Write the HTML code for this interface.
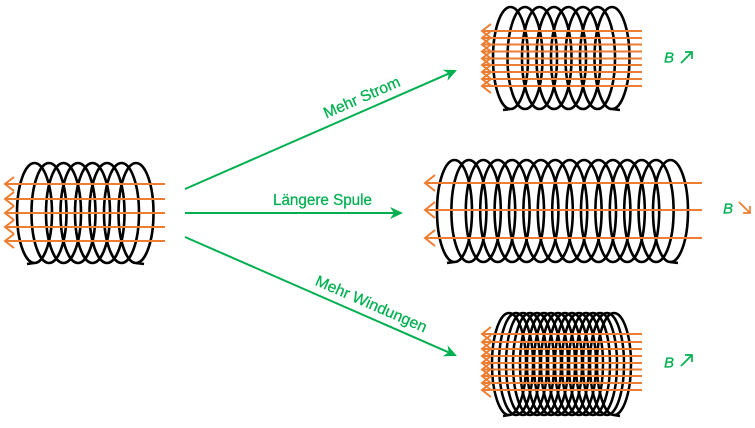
<!DOCTYPE html>
<html>
<head>
<meta charset="utf-8">
<style>
  html,body{margin:0;padding:0;background:#fff;}
  svg{display:block;}
  text{font-family:"Liberation Sans",sans-serif;}
</style>
</head>
<body>
<svg width="755" height="428" viewBox="0 0 755 428" xmlns="http://www.w3.org/2000/svg">
  <rect width="755" height="428" fill="#fff"/>

  <!-- Coil 1 (left) -->
  <g fill="none" stroke="#000" stroke-width="2.6">
    <ellipse cx="34.5" cy="213" rx="17.5" ry="50"/>
    <ellipse cx="49" cy="213" rx="17.5" ry="50"/>
    <ellipse cx="63.5" cy="213" rx="17.5" ry="50"/>
    <ellipse cx="78" cy="213" rx="17.5" ry="50"/>
    <ellipse cx="92.5" cy="213" rx="17.5" ry="50"/>
    <ellipse cx="107" cy="213" rx="17.5" ry="50"/>
    <ellipse cx="121.5" cy="213" rx="17.5" ry="50"/>
    <ellipse cx="136" cy="213" rx="17.5" ry="50"/>
    <path d="M27 264 L34 263 M136 263 L144 264"/>
  </g>
  <g fill="none" stroke="#ED7D31" stroke-width="2">
    <path d="M5 184 H165 M5 199 H165 M5 213 H165 M5 227 H165 M5 241 H165"/>
    <path d="M14 177 L5 184 L14 191 M14 192 L5 199 L14 206 M14 206 L5 213 L14 220 M14 220 L5 227 L14 234 M14 234 L5 241 L14 248"/>
  </g>

  <!-- Coil 2 (top) -->
  <g fill="none" stroke="#000" stroke-width="2.6">
    <ellipse cx="510.5" cy="58" rx="17.5" ry="51"/>
    <ellipse cx="525" cy="58" rx="17.5" ry="51"/>
    <ellipse cx="539.5" cy="58" rx="17.5" ry="51"/>
    <ellipse cx="554" cy="58" rx="17.5" ry="51"/>
    <ellipse cx="568.5" cy="58" rx="17.5" ry="51"/>
    <ellipse cx="583" cy="58" rx="17.5" ry="51"/>
    <ellipse cx="597.5" cy="58" rx="17.5" ry="51"/>
    <ellipse cx="612" cy="58" rx="17.5" ry="51"/>
    <path d="M503 110 L510 109 M612 109 L620 110"/>
  </g>
  <g fill="none" stroke="#ED7D31" stroke-width="2">
    <path d="M482 31 H642 M482 38 H642 M482 44.5 H642 M482 51.5 H642 M482 58.5 H642 M482 65 H642 M482 72 H642 M482 79 H642 M482 86 H642"/>
    <path d="M491 24 L482 31 L491 38 M491 31 L482 38 L491 45 M491 37.5 L482 44.5 L491 51.5 M491 44.5 L482 51.5 L491 58.5 M491 51.5 L482 58.5 L491 65.5 M491 58 L482 65 L491 72 M491 65 L482 72 L491 79 M491 72 L482 79 L491 86 M491 79 L482 86 L491 93"/>
  </g>

  <!-- Coil 3 (middle, long) -->
  <g fill="none" stroke="#000" stroke-width="2.6">
    <ellipse cx="454.5" cy="211" rx="17.5" ry="51"/>
    <ellipse cx="468.9" cy="211" rx="17.5" ry="51"/>
    <ellipse cx="483.3" cy="211" rx="17.5" ry="51"/>
    <ellipse cx="497.7" cy="211" rx="17.5" ry="51"/>
    <ellipse cx="512.1" cy="211" rx="17.5" ry="51"/>
    <ellipse cx="526.5" cy="211" rx="17.5" ry="51"/>
    <ellipse cx="540.9" cy="211" rx="17.5" ry="51"/>
    <ellipse cx="555.3" cy="211" rx="17.5" ry="51"/>
    <ellipse cx="569.7" cy="211" rx="17.5" ry="51"/>
    <ellipse cx="584.1" cy="211" rx="17.5" ry="51"/>
    <ellipse cx="598.5" cy="211" rx="17.5" ry="51"/>
    <ellipse cx="612.9" cy="211" rx="17.5" ry="51"/>
    <ellipse cx="627.3" cy="211" rx="17.5" ry="51"/>
    <ellipse cx="641.7" cy="211" rx="17.5" ry="51"/>
    <ellipse cx="656.1" cy="211" rx="17.5" ry="51"/>
    <ellipse cx="670.5" cy="211" rx="17.5" ry="51"/>
    <path d="M447 263 L454 262 M670 262 L678 263"/>
  </g>
  <g fill="none" stroke="#ED7D31" stroke-width="2">
    <path d="M425 183 H702 M425 210 H702 M425 238 H702"/>
    <path d="M435 175 L425 183 L435 191 M435 202 L425 210 L435 218 M435 230 L425 238 L435 246"/>
  </g>

  <!-- Coil 4 (bottom, dense) -->
  <g fill="none" stroke="#000" stroke-width="2.5">
    <ellipse cx="509" cy="364" rx="17" ry="51"/>
    <ellipse cx="516" cy="364" rx="17" ry="51"/>
    <ellipse cx="523" cy="364" rx="17" ry="51"/>
    <ellipse cx="530" cy="364" rx="17" ry="51"/>
    <ellipse cx="537" cy="364" rx="17" ry="51"/>
    <ellipse cx="544" cy="364" rx="17" ry="51"/>
    <ellipse cx="551" cy="364" rx="17" ry="51"/>
    <ellipse cx="558" cy="364" rx="17" ry="51"/>
    <ellipse cx="565" cy="364" rx="17" ry="51"/>
    <ellipse cx="572" cy="364" rx="17" ry="51"/>
    <ellipse cx="579" cy="364" rx="17" ry="51"/>
    <ellipse cx="586" cy="364" rx="17" ry="51"/>
    <ellipse cx="593" cy="364" rx="17" ry="51"/>
    <ellipse cx="600" cy="364" rx="17" ry="51"/>
    <ellipse cx="607" cy="364" rx="17" ry="51"/>
    <ellipse cx="614" cy="364" rx="17" ry="51"/>
    <path d="M503 416 L509 415 M614 415 L620 416"/>
  </g>
  <g fill="none" stroke="#ED7D31" stroke-width="2">
    <path d="M482 334 H642 M482 342 H642 M482 349 H642 M482 356 H642 M482 363 H642 M482 369.5 H642 M482 376 H642 M482 383 H642 M482 390 H642"/>
    <path d="M491 327 L482 334 L491 341 M491 335 L482 342 L491 349 M491 342 L482 349 L491 356 M491 349 L482 356 L491 363 M491 356 L482 363 L491 370 M491 362.5 L482 369.5 L491 376.5 M491 369 L482 376 L491 383 M491 376 L482 383 L491 390 M491 383 L482 390 L491 397"/>
  </g>

  <!-- Green arrows -->
  <g stroke="#00B050" stroke-width="2" fill="none">
    <line x1="185" y1="189" x2="448.8" y2="73.6"/>
    <line x1="185" y1="213" x2="394" y2="213"/>
    <line x1="185" y1="237" x2="448.8" y2="352.4"/>
  </g>
  <g fill="#00B050">
    <polygon points="457,70 447.5,80.7 448.8,73.6 442.7,69.7"/>
    <polygon points="403,213 390,219 394,213 390,207"/>
    <polygon points="457,356 442.7,356.3 448.8,352.4 447.5,345.3"/>
  </g>

  <!-- Labels -->
  <g fill="#00B050" font-size="15.5" stroke="#00B050" stroke-width="0.25">
    <g transform="translate(367,109.4) rotate(-23.6)">
      <text x="0" y="-8" text-anchor="middle" textLength="82" lengthAdjust="spacingAndGlyphs">Mehr Strom</text>
    </g>
    <text x="273" y="205" textLength="99" lengthAdjust="spacingAndGlyphs">Längere Spule</text>
    <g transform="translate(366,316) rotate(23.6)">
      <text x="0" y="-8" text-anchor="middle" textLength="120" lengthAdjust="spacingAndGlyphs">Mehr Windungen</text>
    </g>
  </g>

  <!-- B indicators -->
  <g font-size="15" font-style="italic" fill="#00B050" stroke="#00B050" stroke-width="0.3">
    <text x="664" y="62.5">B</text>
    <text x="723" y="213.5">B</text>
    <text x="664" y="367.5">B</text>
  </g>
  <g stroke="#00B050" stroke-width="1.7" fill="none">
    <path d="M681 63 L692 52 M685 52 H692 V59"/>
    <path d="M681 366 L692 355 M685 355 H692 V362"/>
  </g>
  <g stroke="#ED7D31" stroke-width="1.7" fill="none">
    <path d="M739 202 L750 213 M743 213 H750 V206"/>
  </g>
</svg>
</body>
</html>
